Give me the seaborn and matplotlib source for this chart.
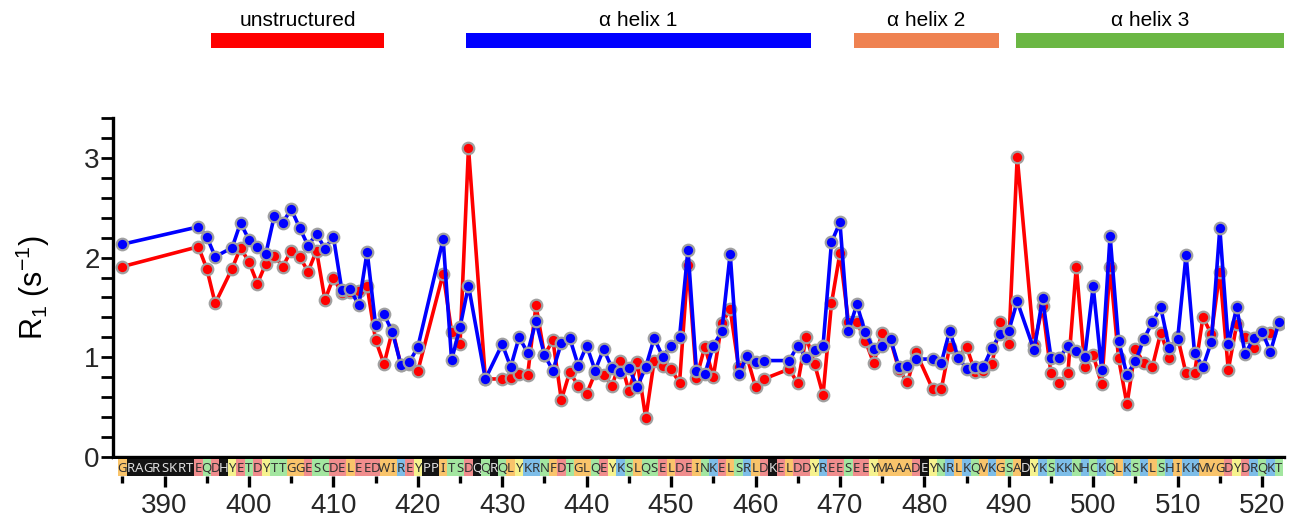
import matplotlib
matplotlib.use('Agg')
import matplotlib.pyplot as plt
from matplotlib.ticker import MultipleLocator
import numpy as np
import pandas as pd
import seaborn as sns

# --- data ---
residues = [385, 394, 395, 396, 398, 399, 400, 401, 402, 403, 404, 405, 406, 407,
            408, 409, 410, 411, 412, 413, 414, 415, 416, 417, 418, 419, 420, 423,
            424, 425, 426, 428, 430, 431, 432, 433, 434, 435, 436, 437, 438, 439,
            440, 441, 442, 443, 444, 445, 446, 447, 448, 449, 450, 451, 452, 453,
            454, 455, 456, 457, 458, 459, 460, 461, 464, 465, 466, 467, 468, 469,
            470, 471, 472, 473, 474, 475, 476, 477, 478, 479, 481, 482, 483, 484,
            485, 486, 487, 488, 489, 490, 491, 493, 494, 495, 496, 497, 498, 499,
            500, 501, 502, 503, 504, 505, 506, 507, 508, 509, 510, 511, 512, 513,
            514, 515, 516, 517, 518, 519, 520, 521, 522]

r1_blue = [2.135, 2.31, 2.21, 2.01, 2.10, 2.35, 2.18, 2.11, 2.04, 2.42, 2.35, 2.49, 2.30, 2.12,
           2.24, 2.09, 2.21, 1.675, 1.685, 1.52, 2.06, 1.32, 1.43, 1.25, 0.92, 0.95, 1.10, 2.185,
           0.97, 1.30, 1.72, 0.78, 1.13, 0.90, 1.20, 1.045, 1.36, 1.02, 0.865, 1.14, 1.19, 0.915,
           1.115, 0.865, 1.08, 0.89, 0.85, 0.89, 0.70, 0.90, 1.19, 1.005, 1.11, 1.20, 2.08, 0.865,
           0.83, 1.11, 1.26, 2.04, 0.83, 1.01, 0.95, 0.965, 0.965, 1.115, 0.995, 1.07, 1.115, 2.155,
           2.355, 1.26, 1.53, 1.25, 1.08, 1.11, 1.18, 0.90, 0.915, 0.98, 0.98, 0.94, 1.265, 0.995,
           0.885, 0.90, 0.905, 1.09, 1.23, 1.265, 1.56, 1.07, 1.59, 0.995, 0.99, 1.115, 1.065, 1.005,
           1.71, 0.875, 2.22, 1.165, 0.82, 0.96, 1.18, 1.35, 1.50, 1.095, 1.18, 2.03, 1.045, 0.90,
           1.155, 2.295, 1.13, 1.50, 1.03, 1.19, 1.255, 1.055, 1.35]

r1_red = [1.91, 2.11, 1.89, 1.54, 1.89, 2.10, 1.955, 1.74, 1.94, 2.02, 1.91, 2.07, 2.01, 1.86,
          2.07, 1.575, 1.80, 1.64, 1.65, 1.66, 1.71, 1.17, 0.93, 1.27, 0.92, 0.93, 0.86, 1.84,
          1.255, 1.13, 3.105, 0.78, 0.78, 0.785, 0.83, 0.815, 1.52, 1.02, 1.17, 0.57, 0.85, 0.71,
          0.63, 0.84, 0.82, 0.71, 0.965, 0.66, 0.95, 0.385, 0.965, 0.915, 0.88, 0.74, 1.93, 0.79,
          1.105, 0.80, 1.34, 1.48, 0.90, 1.00, 0.70, 0.78, 0.88, 0.735, 1.205, 0.93, 0.62, 1.54,
          2.045, 1.355, 1.355, 1.165, 0.94, 1.245, 1.17, 0.87, 0.745, 1.05, 0.675, 0.675, 1.105, 1.00,
          1.105, 0.85, 0.865, 0.93, 1.355, 1.13, 3.015, 1.12, 1.51, 0.835, 0.735, 0.835, 1.91, 0.905,
          1.02, 0.725, 1.91, 0.99, 0.525, 1.08, 0.94, 0.90, 1.245, 0.995, 1.20, 0.835, 0.835, 1.40,
          1.23, 1.86, 0.87, 1.33, 1.205, 1.09, 1.23, 1.24, 1.33]

sequence = ("GRAGRSKRTEQDHYETDYTTGGESCDELEEDWIREYPPITSDQQRQLYKR"
            "NFDTGLQEYKSLQSELDEINKELSRLDKELDDYREESEEYMAAADEYNRL"
            "KQVKGSADYKSKKNHCKQLKSKLSHIKKMVGDYDRQKT")
seq_start = 385
blacked_out = [386, 387, 388, 389, 390, 391, 392, 393, 397, 421, 422, 427, 429, 462, 480, 492]

domain_names = ['unstructured', 'α helix 1', 'α helix 2', 'α helix 3']
domain_start = [395.5, 425.7, 471.7, 490.8]
domain_end = [416.0, 466.6, 488.8, 522.6]
domain_colors = ['#FF0000', '#0000FF', '#EF8251', '#6BB744']

# residue colouring of the sequence strip
aa_colors = {}
for a in 'GAVLIMFPW':
    aa_colors[a] = '#F9C46B'
for a in 'STNQC':
    aa_colors[a] = '#A3E6A0'
for a in 'KRH':
    aa_colors[a] = '#7DBDE8'
for a in 'DE':
    aa_colors[a] = '#F08D8D'
aa_colors['Y'] = '#F6F28E'

df = pd.DataFrame({'residue': residues, 'blue': r1_blue, 'red': r1_red})

# --- figure ---
sns.set_theme(style='white')
plt.rcParams['font.family'] = ['Liberation Sans', 'DejaVu Sans']
plt.rcParams['mathtext.default'] = 'regular'

fig = plt.figure(figsize=(12.95, 5.24), dpi=100)
xlim = (383.9, 522.6)
ax = fig.add_axes([0.0873, 0.1288, 0.9042, 0.6451])
ax_seq = fig.add_axes([0.0873, 0.0916, 0.9042, 0.0324])
ax_top = fig.add_axes([0.0873, 0.895, 0.9042, 0.095])

line_kw = dict(marker='o', markersize=8.3, markeredgecolor='#A0A0A0',
               markeredgewidth=1.6, linewidth=2.6, estimator=None, sort=True)
sns.lineplot(data=df, x='residue', y='red', color='#FF0000', ax=ax, zorder=2, **line_kw)
sns.lineplot(data=df, x='residue', y='blue', color='#0000FF', ax=ax, zorder=3, **line_kw)

ax.set_xlim(xlim)
ax.set_ylim(0, 3.4)
ax.yaxis.set_major_locator(MultipleLocator(1))
ax.yaxis.set_minor_locator(MultipleLocator(0.2))
ax.tick_params(axis='y', which='both', direction='out', left=True, width=2, color='black',
               labelsize=20, pad=1)
ax.tick_params(axis='y', which='major', length=8.5)
ax.tick_params(axis='y', which='minor', length=8.5)
ax.tick_params(axis='x', which='both', bottom=False, labelbottom=False)
for s in ['top', 'right']:
    ax.spines[s].set_visible(False)
for s in ['left', 'bottom']:
    ax.spines[s].set_color('black')
    ax.spines[s].set_linewidth(2.4)
ax.set_xlabel('')
ax.set_ylabel('R$_1$ (s$^{-1}$)', fontsize=22, labelpad=23, color='black')

# --- sequence strip ---
seq_res = np.arange(seq_start, seq_start + len(sequence))
strip_colors = ['#141414' if r in blacked_out else aa_colors[a] for r, a in zip(seq_res, sequence)]
ax_seq.bar(seq_res, 1, width=1, bottom=0, color=strip_colors, linewidth=0)
for r, a in zip(seq_res, sequence):
    ax_seq.text(r, 0.47, a, ha='center', va='center', fontsize=9.5, fontstretch='condensed',
                color='#DDDDDD' if r in blacked_out else '#333333',
                family=['Noto Sans', 'DejaVu Sans'])
ax_seq.set_xlim(xlim)
ax_seq.set_ylim(0, 1)
for s in ax_seq.spines.values():
    s.set_visible(False)
ax_seq.set_yticks([])
ax_seq.xaxis.set_major_locator(MultipleLocator(10))
ax_seq.xaxis.set_minor_locator(MultipleLocator(5))
ax_seq.tick_params(axis='x', which='both', direction='out', bottom=True, width=2.4,
                   color='black', labelsize=20, pad=4)
ax_seq.tick_params(axis='x', which='major', length=8)
ax_seq.tick_params(axis='x', which='minor', length=5)

# --- domain bars on top ---
for name, s, e, c in zip(domain_names, domain_start, domain_end, domain_colors):
    ax_top.barh(0.3, e - s, left=s, height=0.3, color=c, linewidth=0)
    ax_top.text((s + e) / 2, 0.70, name, ha='center', va='center', fontsize=15, color='black')
ax_top.set_xlim(xlim)
ax_top.set_ylim(0, 1)
ax_top.axis('off')

fig.savefig('out.png', dpi=100)
